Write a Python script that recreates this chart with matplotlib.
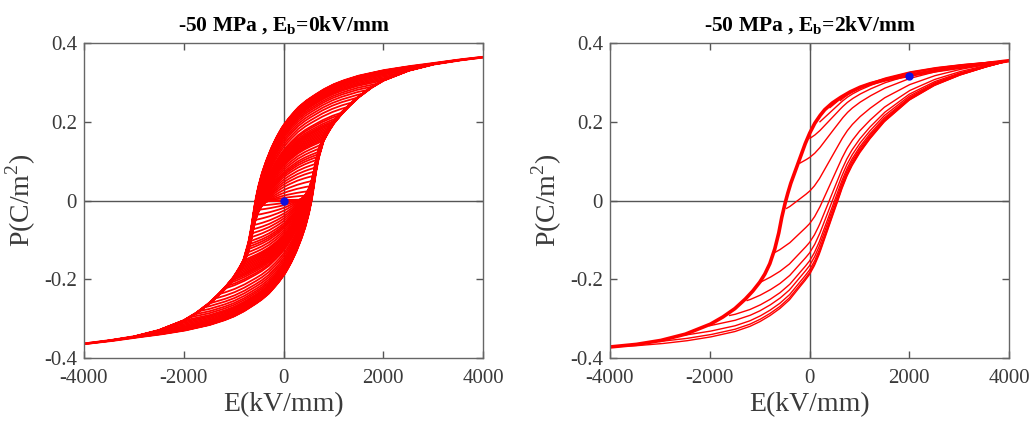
import numpy as np
import matplotlib
matplotlib.use("Agg")
import matplotlib.pyplot as plt

plt.rcParams['font.family'] = ['Liberation Serif', 'DejaVu Serif']
plt.rcParams['mathtext.fontset'] = 'custom'
plt.rcParams['mathtext.rm'] = 'Liberation Serif'
plt.rcParams['mathtext.bf'] = 'Liberation Serif:bold'

# ---- data ----
# left panel (Eb = 0): major descending branch
E_left_desc = [-4000, -3500, -3000, -2500, -2000, -1750, -1500, -1300, -1150, -1000, -900, -800,
               -700, -640, -590, -550, -500, -430, -350, -250, -150, -50, 0, 100, 200, 300,
               450, 600, 800, 1000, 1200, 1500, 2000, 2500, 3000, 3500, 4000]
P_left_desc = [-0.364, -0.356, -0.346, -0.330, -0.305, -0.286, -0.262, -0.238, -0.218, -0.195,
               -0.175, -0.152, -0.108, -0.068, -0.025, 0.005, 0.035, 0.068, 0.098, 0.130,
               0.157, 0.180, 0.190, 0.207, 0.222, 0.236, 0.252, 0.265, 0.281, 0.294, 0.304,
               0.316, 0.330, 0.340, 0.348, 0.357, 0.364]
# left panel: major ascending branch
E_left_asc = [-4000, -3500, -3000, -2500, -2000, -1500, -1200, -1000, -800, -600, -450, -300,
              -200, -100, 0, 50, 150, 250, 350, 430, 500, 550, 590, 640, 700, 800, 900, 1000,
              1150, 1300, 1500, 1750, 2000, 2500, 3000, 3500, 4000]
P_left_asc = [-0.364, -0.357, -0.348, -0.340, -0.330, -0.316, -0.304, -0.294, -0.281, -0.265,
              -0.252, -0.236, -0.222, -0.207, -0.190, -0.180, -0.157, -0.130, -0.098, -0.068,
              -0.035, -0.005, 0.025, 0.068, 0.108, 0.152, 0.175, 0.195, 0.218, 0.238, 0.262,
              0.286, 0.305, 0.330, 0.346, 0.356, 0.364]
# amplitudes of the symmetric minor loops (tips on the major loop)
loop_amplitudes = [560, 575, 590, 605, 620, 635, 650, 665, 680, 695, 710, 725, 740, 760, 780,
                   800, 820, 840, 860, 880, 900, 925, 950, 975, 1000, 1030, 1060, 1100, 1150,
                   1200, 1300, 1400, 1500, 1600, 1700, 1800, 1900, 2000, 2100, 2200, 2300,
                   2400, 2500, 2600, 2700, 2800, 2900, 3000, 3100, 3200, 3300, 3400, 3500,
                   3600, 3700, 3800, 3900, 4000]

# right panel (Eb = 2 kV/mm): major descending branch
E_right_desc = [-4000, -3500, -3000, -2500, -2000, -1750, -1500, -1300, -1150, -1000, -900,
                -800, -700, -620, -560, -500, -450, -380, -300, -200, -100, 0, 100, 200, 300,
                450, 600, 800, 1000, 1200, 1500, 2000, 2500, 3000, 3500, 4000]
P_right_desc = [-0.372, -0.366, -0.356, -0.340, -0.315, -0.297, -0.275, -0.252, -0.232, -0.208,
                -0.188, -0.162, -0.125, -0.085, -0.045, -0.012, 0.012, 0.042, 0.070, 0.105,
                0.140, 0.170, 0.195, 0.214, 0.230, 0.247, 0.260, 0.275, 0.287, 0.296, 0.306,
                0.318, 0.329, 0.338, 0.347, 0.355]
# right panel: major ascending branch
E_right_asc = [-4000, -3500, -3000, -2500, -2000, -1500, -1200, -1000, -800, -600, -400, -250,
               -100, 0, 100, 200, 300, 400, 500, 570, 650, 750, 850, 1000, 1200, 1500, 2000,
               2500, 3000, 3500, 4000]
P_right_asc = [-0.372, -0.369, -0.364, -0.357, -0.347, -0.333, -0.320, -0.308, -0.293, -0.275,
               -0.252, -0.228, -0.205, -0.188, -0.165, -0.135, -0.098, -0.062, -0.025, 0.000,
               0.030, 0.062, 0.088, 0.120, 0.155, 0.200, 0.255, 0.292, 0.318, 0.338, 0.355]
# reversal points of the first-order reversal curves (field, polarization where they start)
reversal_fields = [-4000, -3000, -2500, -2000, -1600, -1250, -990, -725, -460, -190, 10, 210, 410, 620]
reversal_P = [-0.372, -0.358, -0.342, -0.318, -0.292, -0.254, -0.208, -0.134, -0.020, 0.095,
              0.158, 0.200, 0.236, 0.254]

start_left = (0, 0.0)
start_right = (2000, 0.315)

titles = ['-50 MPa , E$_{\\mathbf{b}}$=0kV/mm', '-50 MPa , E$_{\\mathbf{b}}$=2kV/mm']
xticks = [-4000, -2000, 0, 2000, 4000]
yticks = [-0.4, -0.2, 0, 0.2, 0.4]
xtick_labels = ['-4000', '-2000', '0', '2000', '4000']
ytick_labels = ['-0.4', '-0.2', '0', '0.2', '0.4']

RED = '#ff0000'
GRAY = '#3a3a3a'

fig = plt.figure(figsize=(10.32, 4.26), dpi=100)
axL = fig.add_axes([84 / 1032, 1 - 358 / 426, 399 / 1032, 315 / 426])
axR = fig.add_axes([610 / 1032, 1 - 358 / 426, 399 / 1032, 315 / 426])


def br(E, Eg, P):
    return np.interp(E, np.array(Eg, float), np.array(P, float))


def dL(E):
    return br(E, E_left_desc, P_left_desc)


def aL(E):
    return br(E, E_left_asc, P_left_asc)


def dR(E):
    return br(E, E_right_desc, P_right_desc)


def aR(E):
    return br(E, E_right_asc, P_right_asc)


# ---- left panel: symmetric minor loops ----
for A in loop_amplitudes:
    top = aL(A)
    bot = dL(-A)
    Ed = np.linspace(A, -A, 300)
    m = (top - bot) / (dL(A) - dL(-A))
    Pd = top + (dL(Ed) - dL(A)) * m
    Eu = np.linspace(-A, A, 300)
    m2 = (top - bot) / (aL(A) - aL(-A))
    Pu = bot + (aL(Eu) - aL(-A)) * m2
    axL.plot(Ed, Pd, color=RED, lw=1.3)
    axL.plot(Eu, Pu, color=RED, lw=1.3)
Efull = np.linspace(-4000, 4000, 800)
axL.plot(Efull, dL(Efull), color=RED, lw=1.8)
axL.plot(Efull, aL(Efull), color=RED, lw=1.8)
axL.plot(*start_left, 'o', color='#1010e0', ms=5, zorder=5)

# ---- right panel: first-order reversal curves ----
Ptop = P_right_desc[-1]
axR.plot(Efull, dR(Efull), color=RED, lw=2.6)
for Er, p0 in zip(reversal_fields, reversal_P):
    pa = aR(Er)
    k = (Ptop - p0) / (Ptop - pa)
    Eu = np.linspace(Er, 4000, 400)
    Pu = p0 + (aR(Eu) - pa) * k
    axR.plot(Eu, Pu, color=RED, lw=1.0)
axR.plot(*start_right, 'o', color='#1010e0', ms=5, zorder=5)

for ax, t in zip([axL, axR], titles):
    ax.axhline(0, color='#555555', lw=1.0, zorder=0)
    ax.axvline(0, color='#555555', lw=1.0, zorder=0)
    ax.set_xlim(-4000, 4000)
    ax.set_ylim(-0.4, 0.4)
    ax.set_xticks(xticks)
    ax.set_xticklabels(xtick_labels)
    ax.set_yticks(yticks)
    ax.set_yticklabels(ytick_labels)
    ax.tick_params(direction='in', top=True, right=True, length=5, width=1,
                   colors='#555555', labelcolor=GRAY, labelsize=15)
    ax.tick_params(axis='x', pad=8)
    ax.tick_params(axis='y', pad=5)
    for s in ax.spines.values():
        s.set_color('#666666')
        s.set_linewidth(1.0)
    ax.set_xlabel('E(kV/mm)', fontsize=20, color=GRAY, labelpad=3)
    ax.set_ylabel('P(C/m$^{2}$)', fontsize=20, color=GRAY, labelpad=4)
    ax.set_title(t, fontsize=15.5, fontweight='bold', pad=8)

fig.savefig('out.png', dpi=100)
